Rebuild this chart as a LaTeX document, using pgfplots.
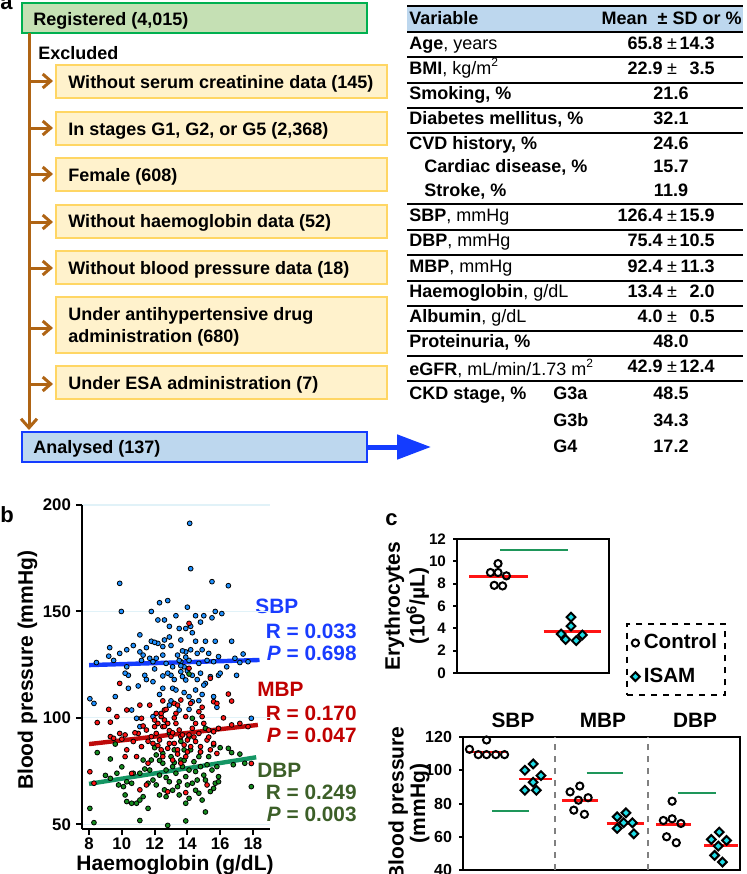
\documentclass[border=0pt]{standalone}
\usepackage{pgfplots}
\pgfplotsset{compat=1.18}
\usepackage{fontspec}
\setmainfont{Liberation Sans}
\usetikzlibrary{arrows.meta}
\definecolor{regfill}{RGB}{197,224,180}
\definecolor{regdraw}{RGB}{0,176,80}
\definecolor{exfill}{RGB}{255,242,204}
\definecolor{exdraw}{RGB}{255,214,100}
\definecolor{anfill}{RGB}{189,215,238}
\definecolor{andraw}{RGB}{20,60,255}
\definecolor{brn}{RGB}{175,100,20}
\definecolor{hdr}{RGB}{189,215,238}
\definecolor{ptblue}{RGB}{30,144,255}
\definecolor{ptred}{RGB}{255,20,20}
\definecolor{ptgreen}{RGB}{20,140,30}
\definecolor{lnblue}{RGB}{20,60,255}
\definecolor{lnred}{RGB}{190,10,10}
\definecolor{lngreen}{RGB}{20,150,100}
\definecolor{txblue}{RGB}{25,60,255}
\definecolor{txred}{RGB}{192,0,0}
\definecolor{txgreen}{RGB}{60,95,40}
\definecolor{isam}{RGB}{30,220,230}
\definecolor{meanred}{RGB}{255,20,20}
\definecolor{sigg}{RGB}{30,150,90}
\newcommand\ff{\fontsize{9}{11}\selectfont}
\newcommand\fb{\fontsize{10.4}{12}\selectfont\bfseries}
\newcommand\pmv[3]{%
  \node[anchor=base east] at (663,#1) {\bfseries #2};
  \node[anchor=base] at (672,#1) {±};
  \node[anchor=base east] at (715,#1) {\bfseries #3};}
\newcommand\sv[2]{\node[anchor=base] at (671,#1) {\bfseries #2};}

\begin{document}
\begin{tikzpicture}
\useasboundingbox (0pt,0pt) rectangle (373pt,-437pt);
\begin{scope}[x=0.5pt,y=-0.5pt, every node/.style={inner sep=0pt, font=\ff}]
% ---------- panel a: flowchart
\node[anchor=base west, font=\fontsize{11}{12}\selectfont\bfseries] at (0,9) {a};
\draw[fill=regfill, draw=regdraw, line width=1pt] (22,3) rectangle (367,33);
\node[anchor=base west] at (33,25) {\bfseries Registered (4,015)};
\draw[brn, line width=1.5pt, -{Straight Barb[length=4.5pt,width=8pt]}] (29,33) -- (29,430);
\node[anchor=base west] at (38,59) {\bfseries Excluded};
\foreach \ya/\yb/\ym in {65/98/81, 112/145/128, 158/191/174, 205/238/222, 251/284/268, 297/353/328, 366/399/384}{
  \draw[fill=exfill, draw=exdraw, line width=1pt] (56,\ya) rectangle (387,\yb);
  \draw[brn, line width=1.5pt, -{Straight Barb[length=4pt,width=7pt]}] (29,\ym) -- (53,\ym);
}
\node[anchor=base west] at (68,88.3) {\bfseries Without serum creatinine data (145)};
\node[anchor=base west] at (68,135) {\bfseries In stages G1, G2, or G5 (2,368)};
\node[anchor=base west] at (68,181.7) {\bfseries Female (608)};
\node[anchor=base west] at (68,227.7) {\bfseries Without haemoglobin data (52)};
\node[anchor=base west] at (68,274.3) {\bfseries Without blood pressure data (18)};
\node[anchor=base west] at (68,320.7) {\bfseries Under antihypertensive drug};
\node[anchor=base west] at (68,342.3) {\bfseries administration (680)};
\node[anchor=base west] at (68,389.3) {\bfseries Under ESA administration (7)};
\draw[fill=anfill, draw=andraw, line width=1pt] (22,432) rectangle (367,462);
\node[anchor=base west] at (33,453) {\bfseries Analysed (137)};
\draw[andraw, line width=2.5pt, -{Triangle[length=17pt,width=12pt]}] (367,447) -- (431,447);
% ---------- panel a: table
\fill[hdr] (407,6) rectangle (743,32);
\draw[line width=0.9pt] (407,6) -- (743,6);
\draw[line width=1.3pt] (407,32) -- (743,32);
\foreach \yy in {57.3,83,107.7,132.7,204.3,230,255.3,281,306,331,356,381.3}{
  \draw[line width=0.9pt] (407,\yy) -- (743,\yy);}
\node[anchor=base west] at (409,24) {\bfseries Variable};
\node[anchor=base east] at (742,24) {\bfseries Mean \ ±\ SD or \%};
\node[anchor=base west] at (409,49.3) {\textbf{Age}, years};\pmv{49.3}{65.8}{14.3}
\node[anchor=base west] at (409,74) {\textbf{BMI}, kg/m\textsuperscript{2}};\pmv{74}{22.9}{3.5}
\node[anchor=base west] at (409,99.5) {\textbf{Smoking, \%}};\sv{99.5}{21.6}
\node[anchor=base west] at (409,124.5) {\textbf{Diabetes mellitus, \%}};\sv{124.5}{32.1}
\node[anchor=base west] at (409,149) {\textbf{CVD history, \%}};\sv{149}{24.6}
\node[anchor=base west] at (424,172.7) {\textbf{Cardiac disease, \%}};\sv{172.7}{15.7}
\node[anchor=base west] at (424,196.7) {\textbf{Stroke, \%}};\sv{196.7}{11.9}
\node[anchor=base west] at (409,221.7) {\textbf{SBP}, mmHg};\pmv{221.7}{126.4}{15.9}
\node[anchor=base west] at (409,246.7) {\textbf{DBP}, mmHg};\pmv{246.7}{75.4}{10.5}
\node[anchor=base west] at (409,272.3) {\textbf{MBP}, mmHg};\pmv{272.3}{92.4}{11.3}
\node[anchor=base west] at (409,297.3) {\textbf{Haemoglobin}, g/dL};\pmv{297.3}{13.4}{2.0}
\node[anchor=base west] at (409,322.3) {\textbf{Albumin}, g/dL};\pmv{322.3}{4.0}{0.5}
\node[anchor=base west] at (409,347.7) {\textbf{Proteinuria, \%}};\sv{347.7}{48.0}
\node[anchor=base west] at (409,375) {\textbf{eGFR}, mL/min/1.73 m\textsuperscript{2}};\pmv{372}{42.9}{12.4}
\node[anchor=base west] at (409,399.3) {\textbf{CKD stage, \%}};
\node[anchor=base west] at (553,399.3) {\bfseries G3a};\sv{399.3}{48.5}
\node[anchor=base west] at (553,426) {\bfseries G3b};\sv{426}{34.3}
\node[anchor=base west] at (553,452) {\bfseries G4};\sv{452}{17.2}
% ---------- panel labels / texts b, c
\node[anchor=base west, font=\fontsize{11}{12}\selectfont\bfseries] at (0,522) {b};
\node[anchor=base west, font=\fontsize{11}{12}\selectfont\bfseries] at (385,525) {c};
\node[anchor=base west, text=txblue, font=\fb] at (255,613) {SBP};
\node[anchor=base east, text=txblue, font=\fb] at (357,638) {R = 0.033};
\node[anchor=base east, text=txblue, font=\fb] at (357,660) {\textit{P} = 0.698};
\node[anchor=base west, text=txred, font=\fb] at (257,696) {MBP};
\node[anchor=base east, text=txred, font=\fb] at (357,720) {R = 0.170};
\node[anchor=base east, text=txred, font=\fb] at (357,742) {\textit{P} = 0.047};
\node[anchor=base west, text=txgreen, font=\fb] at (257,777) {DBP};
\node[anchor=base east, text=txgreen, font=\fb] at (357,799) {R = 0.249};
\node[anchor=base east, text=txgreen, font=\fb] at (357,821) {\textit{P} = 0.003};
\node[anchor=base, font=\fb] at (513,727) {SBP};
\node[anchor=base, font=\fb] at (603,727) {MBP};
\node[anchor=base, font=\fb] at (695,727) {DBP};
\end{scope}

% ---------- panel b: scatter
\begin{axis}[at={(41pt,-414.5pt)}, anchor=south west, scale only axis,
  width=94pt, height=162pt,
  xmin=7.57, xmax=19.04, ymin=47.8, ymax=200,
  axis x line*=bottom, axis y line*=left,
  axis line style={line width=1.2pt, -},
  xtick={8,10,...,18}, ytick={50,100,150,200},
  tick align=outside, major tick length=3pt,
  tick style={line width=1pt, black},
  ymajorgrids, grid style={draw={rgb,255:red,225;green,242;blue,248}, line width=0.6pt},
  tick label style={font=\bfseries\fontsize{8.4}{9}\selectfont},
  xticklabel shift=-2pt, yticklabel shift=-1pt,
  /pgf/number format/assume math mode=true,
  xlabel={Haemoglobin (g/dL)}, ylabel={Blood pressure (mmHg)},
  label style={font=\fontsize{10.5}{12}\selectfont\bfseries},
  xlabel style={at={(axis description cs:0.495,-0.11)}, anchor=center},
  ylabel style={at={(axis description cs:-0.29,0.49)}, anchor=center},
]
\addplot[only marks, mark=*, mark size=1.2pt, mark options={draw=none, fill=ptblue}] table {
x y
14.14 191.4
14.2 170.1
9.87 163.2
15.5 164
16.5 162.1
9.97 150
11.8 150
12.3 154.1
12.8 155.1
15.7 150
14.5 148
15.0 148
13.3 148
14.8 145
15.5 147
12.9 143
13.5 142
13.9 142
14.2 143
14.3 140
12.6 146
11.1 139
13.6 136.6
12.9 138
12.6 136.6
11.8 136
12.2 135
12.0 135.5
12.5 133.5
13.0 134
14.5 136
15.1 136
15.7 136
16.7 136
9.26 133
10.7 134
10.3 132
9.87 130.3
9.2 129
11.1 131
11.3 129.5
11.7 128
12.1 128
12.5 129.5
13.4 129.5
13.9 131
14.2 132
14.6 130.3
14.9 132
15.3 130.3
15.9 128.8
17.4 130
8.45 126
10.3 124
11.2 127
11.9 126.4
12.7 125.6
13.1 124
13.6 126.4
13.8 124
14.1 127
14.7 125.6
15.6 126.4
16.4 124
17.2 126
17.7 126.4
10.4 120
11.4 120
11.5 118
11.9 117
12.5 119.7
13.0 120
13.6 121.7
13.7 119.4
13.9 117.8
14.3 120
14.8 121
15.1 116.2
15.4 119.4
15.9 120
10.4 113.9
12.5 113.9
13.1 113.9
13.3 113.1
13.8 111.9
14.5 113.1
15.0 115.4
14.7 108.1
14.3 107.6
14.1 110
12.9 106
13.5 103.7
8.05 109
8.3 106.8
10.6 103.7
10.9 99.8
15.8 105
17.9 99.8
11.1 95.9
11.9 100.6
13.7 131.5
13.5 127
14.0 122
13.2 118
12.8 121
14.6 118
12.3 111
13.0 108
14.1 104
10.2 121
9.5 127
12.2 146
14.0 152
16.1 149
11.5 133
15.2 127
16.0 121
14.9 111
13.9 128.5
13.6 124.5
12.0 123
9.6 110
11.0 115
15.6 110
16.9 128
17.0 120
};
\addplot[only marks, mark=*, mark size=1.2pt, mark options={draw=none, fill=ptgreen}] table {
x y
14.1 120.6
14.3 99.8
8.5 83.7
8.05 57.5
8.3 50.8
9.3 80.7
9.7 74
9.6 87.7
10.1 67.7
10.2 63.8
10.3 60.7
10.6 59.9
10.9 59.9
11.1 61.4
11.3 63
11.6 57.5
11.1 51.8
12.8 49.5
13.9 51.6
14.9 61.4
15.1 55.8
15.4 65.4
15.6 66.9
15.7 69.3
15.9 72.4
15.9 70
16.5 85.7
16.7 83.7
17.2 83
17.5 78.7
17.9 67.7
10.7 74
11.3 80.2
11.7 75.5
11.9 70.8
12.1 68.5
12.3 73.1
12.5 78.7
12.6 66.2
12.7 75.5
12.9 70
13.0 81.8
13.1 77.1
13.3 74
13.4 67.7
13.5 70
13.6 80.2
13.7 77.1
13.9 72.4
14.0 68.5
14.1 75.5
14.3 69.3
14.4 79.4
14.5 74.8
14.6 70.8
14.7 81.8
14.8 77.1
15.0 73.1
15.1 70.8
15.3 81.8
15.5 75.5
15.6 87.3
15.8 77.1
15.1 95.1
14.2 85
13.8 85
13.2 85
12.5 83.3
12.1 82.6
11.8 80.2
11.1 74
11.6 69.3
10.3 70
10.6 69.3
9.8 68.5
9.3 71.6
12.7 63
13.5 63.8
12.3 63.8
14.1 62.2
13.9 59.9
14.7 64.6
12.3 80
13.8 80
14.8 84
13.2 79
12.7 72
11.4 76
10.0 77
9.0 73
14.5 66
13.1 66
15.2 78
16.0 86
16.8 78
12.0 86
13.6 89
14.1 91
12.9 93
};
\addplot[only marks, mark=*, mark size=1.2pt, mark options={draw=none, fill=ptred}] table {
x y
14.1 144.4
14.1 123.3
15.4 118.6
9.87 116.2
8.05 74.7
8.3 69.3
8.5 97.8
9.3 98
9.7 100.6
10.3 103.7
11.1 106
11.7 106
12.1 102.1
12.4 100.6
12.6 99
12.5 95.9
12.2 97.4
12.8 97.4
13.3 97.4
13.2 106.8
13.4 106
13.6 108.4
14.2 106.8
14.7 102.9
14.9 100.6
15.6 107.6
15.8 106.8
16.5 111.2
16.7 107.9
14.5 97.4
15.0 97.4
15.3 94.3
15.6 93.5
15.9 95.1
16.7 96.7
17.2 97.4
17.7 95.9
17.9 78.6
9.3 91.2
9.87 92.7
10.2 92
10.7 88.9
10.3 85
10.2 81.8
10.9 81.8
11.2 86.5
11.3 96.2
11.5 94.3
11.8 91.2
11.9 88
12.1 92.7
12.3 89.6
12.4 85
12.5 81.8
12.8 85.7
13.0 91.2
13.2 88
13.4 85
13.6 91.2
13.8 87.3
14.0 89.6
14.2 86.5
14.5 88.9
14.8 86.5
15.2 89.6
15.4 85
15.6 88
15.8 83.3
13.9 81.8
13.1 80.2
11.6 78.7
10.6 73.9
11.5 68.5
12.8 65.3
11.1 66.2
13.9 64.9
15.2 68.5
13.6 78.7
9.5 90.4
11.0 92.7
12.0 95.9
14.3 95.1
14.7 92.7
13.9 100.6
13.3 102.1
12.4 102.1
12.6 103.7
13.5 94.3
12.0 99
11.2 99.8
12.6 96
12.9 94
13.1 93
13.7 92
14.1 92
14.4 91
14.0 84
13.4 83
12.9 88
12.2 87
11.6 89
10.8 93
10.0 90
14.8 84
15.3 91
13.2 100
12.7 104
12.5 108
14.9 105
16.2 100
9.2 104
};
\addplot[lnblue, line width=2.2pt] coordinates {(8,124.8) (18.4,127.2)};
\addplot[lnred, line width=2.2pt] coordinates {(8,87.7) (18.3,96.7)};
\addplot[lngreen, line width=2.2pt] coordinates {(8,69.0) (18.2,81.5)};
\end{axis}

% ---------- panel c: erythrocytes
\begin{axis}[at={(228.5pt,-336.5pt)}, anchor=south west, scale only axis,
  width=76pt, height=67pt,
  xmin=0.5, xmax=2.5, ymin=0, ymax=12,
  xtick=\empty, ytick={0,2,...,12}, ytick pos=left,
  tick align=outside, major tick length=2pt,
  tick style={line width=1pt, black},
  axis line style={line width=1pt},
  tick label style={font=\bfseries\fontsize{7.6}{9}\selectfont},
  /pgf/number format/assume math mode=true,
  ylabel={Erythrocytes\\(10\textsuperscript{6}/µL)},
  ylabel style={font=\fontsize{10.5}{7.5}\selectfont\bfseries, align=center,
     at={(axis description cs:-0.33,0.5)}, anchor=center},
  legend style={at={(1.112,0.373)}, anchor=north west, draw=black, dashed,
     line width=1pt, font=\fontsize{10.3}{12}\selectfont\bfseries,
     inner xsep=2pt, inner ysep=3pt, row sep=4pt, cells={anchor=west}},
  legend image code/.code={\draw[mark repeat=2,mark phase=2,solid,#1] plot coordinates {(0cm,0cm) (0.13cm,0cm) (0.26cm,0cm)};},
]
\addplot[only marks, mark=o, mark size=1.8pt, mark options={solid, draw=black, fill=white, line width=1pt}] coordinates {
(1.04,9.8) (0.94,9.0) (1.04,9.0) (1.15,8.7) (0.99,7.85) (1.10,7.8)};
\addlegendentry{Control}
\addplot[only marks, mark=square*, mark size=1.55pt, mark options={solid, rotate=45, draw=black, fill=isam, line width=1pt}] coordinates {
(2.0,5.0) (2.0,4.2) (1.87,3.5) (1.93,3.0) (2.07,2.9) (2.15,3.4)};
\addlegendentry{ISAM}
\addplot[meanred, line width=1.4pt, forget plot] coordinates {(0.66,8.65) (1.43,8.65)};
\addplot[meanred, line width=1.4pt, forget plot] coordinates {(1.64,3.7) (2.40,3.7)};
\addplot[sigg, line width=1pt, forget plot] coordinates {(1.07,11.05) (1.96,11.05)};
\end{axis}

% ---------- panel c: blood pressure
\begin{axis}[at={(231.5pt,-435pt)}, anchor=south west, scale only axis,
  width=138.5pt, height=66.5pt,
  xmin=0.5, xmax=6.5, ymin=40, ymax=120,
  xtick=\empty, ytick={40,60,...,120}, ytick pos=left,
  tick align=outside, major tick length=2pt,
  tick style={line width=1pt, black},
  axis line style={line width=1pt},
  tick label style={font=\bfseries\fontsize{8}{9}\selectfont},
  /pgf/number format/assume math mode=true,
  ylabel={Blood pressure\\(mmHg)},
  ylabel style={font=\fontsize{10.5}{8.5}\selectfont\bfseries, align=center,
     at={(axis description cs:-0.195,0.5)}, anchor=center},
]
\addplot[gray, dashed, line width=1pt] coordinates {(2.5,40) (2.5,120)};
\addplot[gray, dashed, line width=1pt] coordinates {(4.5,40) (4.5,120)};
\addplot[sigg, line width=1pt] coordinates {(1.13,75.4) (1.93,75.4)};
\addplot[sigg, line width=1pt] coordinates {(3.18,98.4) (3.97,98.4)};
\addplot[sigg, line width=1pt] coordinates {(5.16,86.4) (5.97,86.4)};
\addplot[only marks, mark=o, mark size=1.8pt, mark options={draw=black, fill=white, line width=1pt}] coordinates {
(0.64,112.6) (0.83,109.4) (1.01,109.4) (1.21,109.4) (1.40,109.4) (1.01,118.2)
(3.03,90.5) (2.82,87) (3.21,83.5) (3.0,82) (2.9,76) (3.13,73.5)
(5.03,81.4) (4.84,69.8) (5.03,70.8) (5.22,68) (4.91,60) (5.12,56.4)};
\addplot[only marks, mark=square*, mark size=1.55pt, mark options={rotate=45, draw=black, fill=isam, line width=1pt}] coordinates {
(2.02,103.8) (1.84,100) (2.19,96.8) (2.02,92.8) (1.84,88) (2.09,88)
(4.03,74.4) (3.84,72) (3.98,68.4) (4.17,68.4) (3.84,65) (4.20,61.8)
(6.05,62.8) (5.88,58.4) (6.21,57.8) (6.03,54.4) (5.95,48.8) (6.12,44.8)};
\addplot[meanred, line width=1.4pt] coordinates {(0.61,111.0) (1.43,111.0)};
\addplot[meanred, line width=1.4pt] coordinates {(1.71,94.8) (2.42,94.8)};
\addplot[meanred, line width=1.4pt] coordinates {(2.64,82) (3.43,82)};
\addplot[meanred, line width=1.4pt] coordinates {(3.61,68) (4.42,68)};
\addplot[meanred, line width=1.4pt] coordinates {(4.69,67.6) (5.43,67.6)};
\addplot[meanred, line width=1.4pt] coordinates {(5.73,54.6) (6.45,54.6)};
\end{axis}
\end{tikzpicture}
\end{document}
